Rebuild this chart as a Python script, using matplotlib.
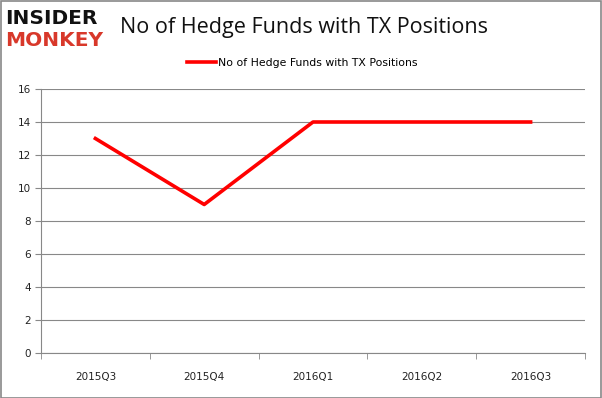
import numpy as np
import matplotlib.pyplot as plt
from matplotlib.patches import Rectangle

quarters = ['2015Q3', '2015Q4', '2016Q1', '2016Q2', '2016Q3']
funds = [13, 9, 14, 14, 14]
label = 'No of Hedge Funds with TX Positions'

fig = plt.figure(figsize=(6.02, 3.98), dpi=100)
ax = fig.add_axes([41/602, 1-353/398, 544/602, 264/398])

x = np.arange(len(quarters))
ax.plot(x, funds, color='#ff0000', lw=2.6, label=label)

ax.set_xlim(-0.5, len(quarters)-0.5)
ax.set_ylim(0, 16)
ax.set_yticks(range(0, 17, 2))
ax.set_xticks(x)
ax.set_xticklabels(quarters)
ax.set_xticks(np.arange(-0.5, len(quarters), 1), minor=True)
ax.tick_params(axis='x', which='major', length=0, pad=14, labelsize=7.5, colors='#222222')
ax.tick_params(axis='x', which='minor', length=4, color='#888888', direction='out')
ax.tick_params(axis='y', length=4, color='#888888', labelsize=7.5, colors='#222222', pad=3)
ax.grid(axis='y', color='#888888', lw=0.8)
ax.set_axisbelow(True)
for s in ['top', 'right']:
    ax.spines[s].set_visible(False)
for s in ['left', 'bottom']:
    ax.spines[s].set_color('#888888')
    ax.spines[s].set_linewidth(0.8)

fig.legend(loc='center', bbox_to_anchor=(302/602, 1-63/398), frameon=False,
           fontsize=7.8, handlelength=2.7, handletextpad=0.15, borderaxespad=0,
           borderpad=0)

fig.text(120/602, 1-27/398, label, fontsize=15.5, va='center',
         family='Open Sans', color='#111111')
fig.text(5/602, 1-18/398, 'INSIDER', fontsize=14.5, fontweight='heavy', va='center',
         color='#111111', family='DejaVu Sans')
fig.text(5/602, 1-41/398, 'MONKEY', fontsize=14.5, fontweight='heavy', va='center',
         color='#d8382a', family='DejaVu Sans')

fig.patches.append(Rectangle((0.001, 0.001), 0.997, 0.997, transform=fig.transFigure,
                             fill=False, edgecolor='#888888', lw=1.2))

fig.savefig('out.png', dpi=100)
